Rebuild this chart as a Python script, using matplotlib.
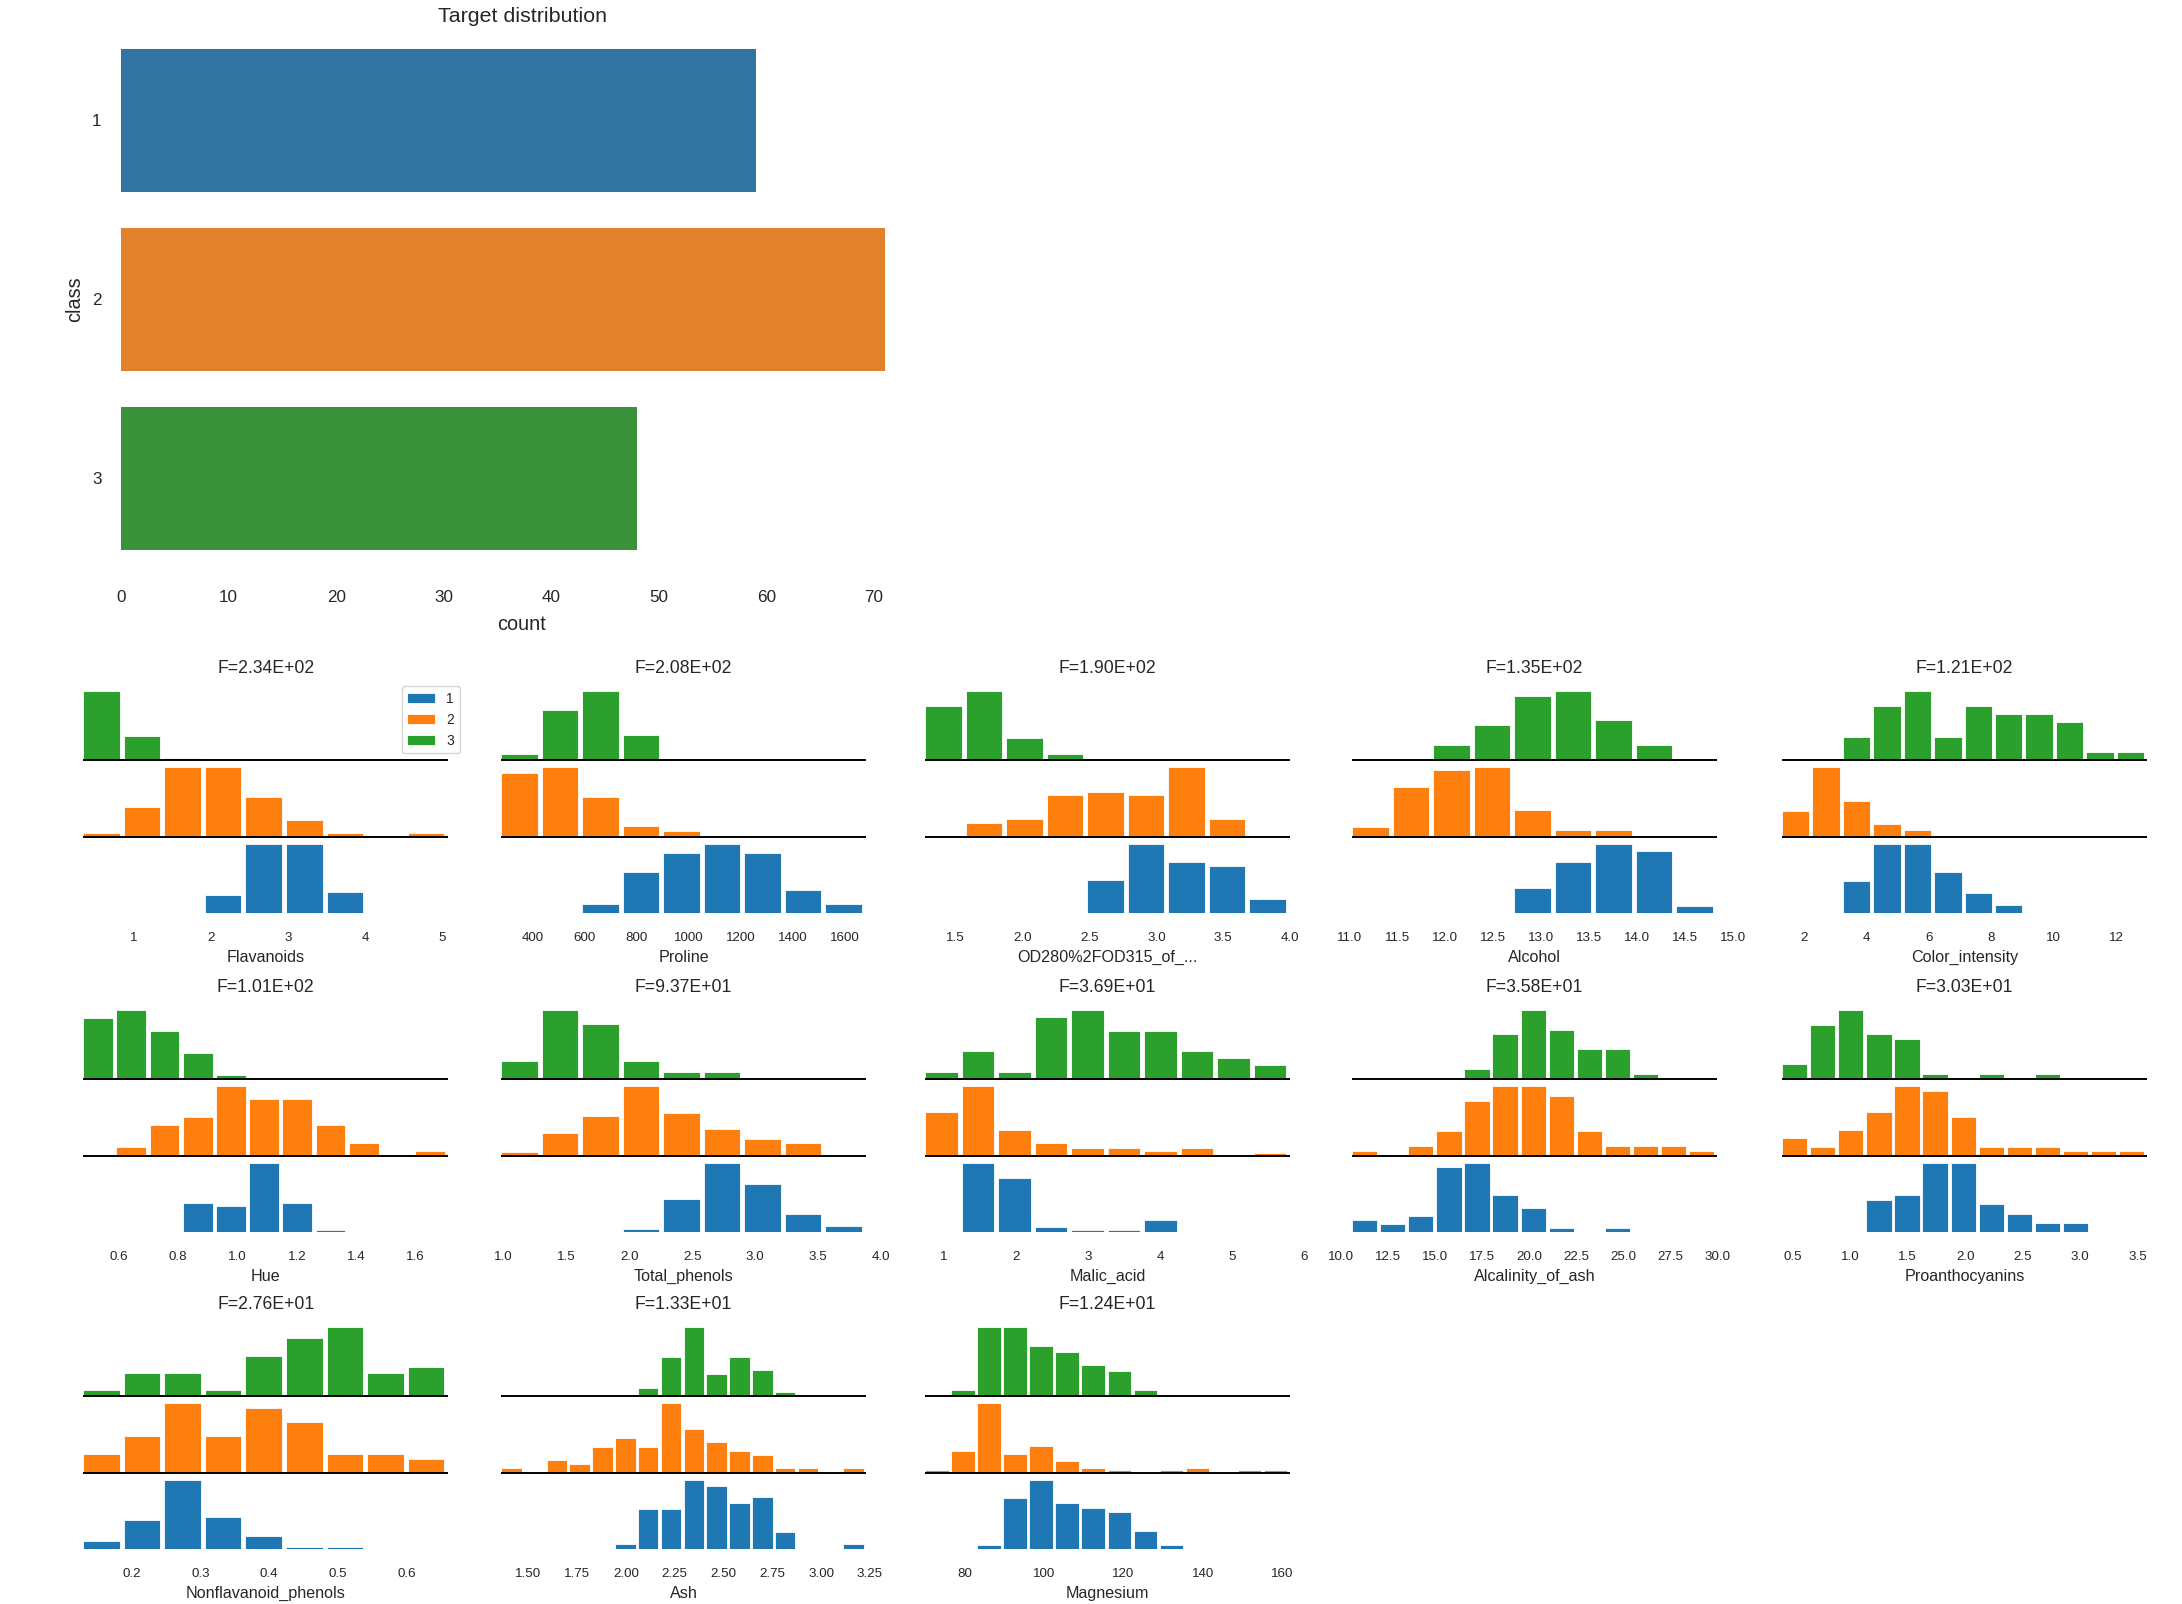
import numpy as np
import matplotlib.pyplot as plt

plt.rcParams['font.family'] = ['Liberation Sans', 'DejaVu Sans']
for key in ['text.color', 'axes.labelcolor', 'xtick.color', 'ytick.color']:
    plt.rcParams[key] = '.15'

# --- DATA ------------------------------------------------------------+

classes = ['1', '2', '3']
class_counts = [59, 71, 48]

features = ['Flavanoids', 'Proline', 'OD280%2FOD315_of_...', 'Alcohol', 'Color_intensity',
            'Hue', 'Total_phenols', 'Malic_acid', 'Alcalinity_of_ash', 'Proanthocyanins',
            'Nonflavanoid_phenols', 'Ash', 'Magnesium']
f_stats = ['2.34E+02', '2.08E+02', '1.90E+02', '1.35E+02', '1.21E+02',
           '1.01E+02', '9.37E+01', '3.69E+01', '3.58E+01', '3.03E+01',
           '2.76E+01', '1.33E+01', '1.24E+01']
x_min = [0.34, 278, 1.27, 11.03, 1.28, 0.48, 0.98, 0.74, 10.6, 0.41, 0.13, 1.36, 70]
x_max = [5.08, 1680, 4.00, 14.83, 13.0, 1.71, 3.88, 5.80, 30.0, 3.58, 0.66, 3.23, 162]
n_bins = [9, 9, 9, 9, 12, 11, 9, 10, 13, 13, 9, 16, 14]

# bin counts per class (class 1 = blue, 2 = orange, 3 = green)
class1_hist = [
    [0, 0, 0, 6, 23, 23, 7, 0, 0],
    [0, 0, 2, 9, 13, 15, 13, 5, 2],
    [0, 0, 0, 0, 9, 19, 14, 13, 4],
    [0, 0, 0, 0, 7, 14, 19, 17, 2],
    [0, 0, 8, 17, 17, 10, 5, 2, 0, 0, 0, 0],
    [0, 0, 0, 11, 10, 26, 11, 1, 0, 0, 0],
    [0, 0, 0, 1, 11, 23, 16, 6, 2],
    [0, 28, 22, 2, 1, 1, 5, 0, 0, 0],
    [3, 2, 4, 16, 17, 9, 6, 1, 0, 1, 0, 0, 0],
    [0, 0, 0, 7, 8, 15, 15, 6, 4, 2, 2, 0, 0],
    [3, 11, 26, 12, 5, 1, 1, 0, 0],
    [0, 0, 0, 0, 0, 1, 7, 7, 12, 11, 8, 9, 3, 0, 0, 1],
    [0, 0, 1, 11, 15, 10, 9, 8, 4, 1, 0, 0, 0, 0],
]
class2_hist = [
    [1, 9, 21, 21, 12, 5, 1, 0, 1],
    [24, 26, 15, 4, 2, 0, 0, 0, 0],
    [0, 4, 5, 12, 13, 12, 20, 5, 0],
    [3, 15, 20, 21, 8, 2, 2, 0, 0],
    [12, 33, 17, 6, 3, 0, 0, 0, 0, 0, 0, 0],
    [0, 2, 7, 9, 16, 13, 13, 7, 3, 0, 1],
    [1, 7, 12, 21, 13, 8, 5, 4, 0],
    [17, 27, 10, 5, 3, 3, 2, 3, 0, 1],
    [1, 0, 2, 5, 11, 14, 14, 12, 5, 2, 2, 2, 1],
    [4, 2, 6, 10, 16, 15, 9, 2, 2, 2, 1, 1, 1],
    [4, 8, 15, 8, 14, 11, 4, 4, 3],
    [1, 0, 3, 2, 6, 8, 6, 16, 10, 7, 5, 4, 1, 1, 0, 1],
    [1, 9, 29, 8, 11, 5, 2, 1, 0, 1, 2, 0, 1, 1],
]
class3_hist = [
    [35, 12, 1, 0, 0, 0, 0, 0, 0],
    [2, 16, 22, 8, 0, 0, 0, 0, 0],
    [17, 22, 7, 2, 0, 0, 0, 0, 0],
    [0, 0, 3, 7, 13, 14, 8, 3, 0],
    [0, 0, 3, 7, 9, 3, 7, 6, 6, 5, 1, 1],
    [14, 16, 11, 6, 1, 0, 0, 0, 0, 0, 0],
    [5, 19, 15, 5, 2, 2, 0, 0, 0],
    [1, 4, 1, 9, 10, 7, 7, 4, 3, 2],
    [0, 0, 0, 0, 2, 9, 14, 10, 6, 6, 1, 0, 0],
    [3, 11, 14, 9, 8, 1, 0, 1, 0, 1, 0, 0, 0],
    [1, 4, 4, 1, 7, 10, 12, 4, 5],
    [0, 0, 0, 0, 0, 0, 2, 9, 16, 5, 9, 6, 1, 0, 0, 0],
    [0, 1, 11, 11, 8, 7, 5, 4, 1, 0, 0, 0, 0, 0],
]

bar_colors = ['#3274a1', '#e1812c', '#3a923a']
hist_colors = ['#1f77b4', '#ff7f0e', '#2ca02c']

# --- LAYOUT (pixels) -------------------------------------------------+

W, H = 2182, 1604
fig = plt.figure(figsize=(W / 100, H / 100), dpi=100)


def px_axes(left, top, right, bottom):
    return fig.add_axes([left / W, 1 - bottom / H, (right - left) / W, (bottom - top) / H])


# --- TARGET DISTRIBUTION ---------------------------------------------+

ax = px_axes(121, 30.8, 923, 567.6)
ax.barh(range(len(classes)), class_counts, height=0.8, color=bar_colors)
ax.set_ylim(2.5, -0.5)
ax.set_yticks(range(len(classes)))
ax.set_yticklabels(classes)
ax.set_xticks(np.arange(0, 71, 10))
for s in ax.spines.values():
    s.set_visible(False)
ax.tick_params(axis='x', length=0, pad=16, labelsize=12.3)
ax.tick_params(axis='y', length=0, pad=14, labelsize=12.3)
ax.set_title('Target distribution', fontsize=15.4, pad=6)
ax.set_xlabel('count', fontsize=14.3, labelpad=7)
ax.set_ylabel('class', fontsize=14.3, labelpad=6)

# --- CLASS HISTOGRAMS ------------------------------------------------+

col_left = [65, 482.8, 906.8, 1333.8, 1763.8]
row_bottom = [913.3, 1232.3, 1549.3]
ax_w, ax_h = 401.5, 233.8

all_hists = [class1_hist, class2_hist, class3_hist]

for k, feat in enumerate(features):
    r, c = divmod(k, 5)
    l, b = col_left[c], row_bottom[r]
    ax = px_axes(l, b - ax_h, l + ax_w, b)

    edges = np.linspace(x_min[k], x_max[k], n_bins[k] + 1)
    w = edges[1] - edges[0]
    step = 1.1
    for i in range(3):
        cnt = np.array(all_hists[i][k], dtype=float)
        cnt = cnt / cnt.max()
        ax.bar(edges[:-1], cnt, width=w * 0.9, bottom=step * i, align='edge',
               color=hist_colors[i], edgecolor='white', linewidth=0.6, label=classes[i])
        if i > 0:
            ax.hlines(step * i, edges[0], edges[-1], color='black', linewidth=1.4)

    for s in ax.spines.values():
        s.set_visible(False)
    ax.set_yticks([])
    ax.tick_params(axis='x', length=0, pad=13.5, labelsize=9.6)
    ax.set_title('F=' + f_stats[k], fontsize=12.7, pad=5)
    ax.set_xlabel(feat, fontsize=11.6, labelpad=4)
    if k == 0:
        ax.legend(loc='upper right', fontsize=10)

plt.savefig('out.png', dpi=100)
